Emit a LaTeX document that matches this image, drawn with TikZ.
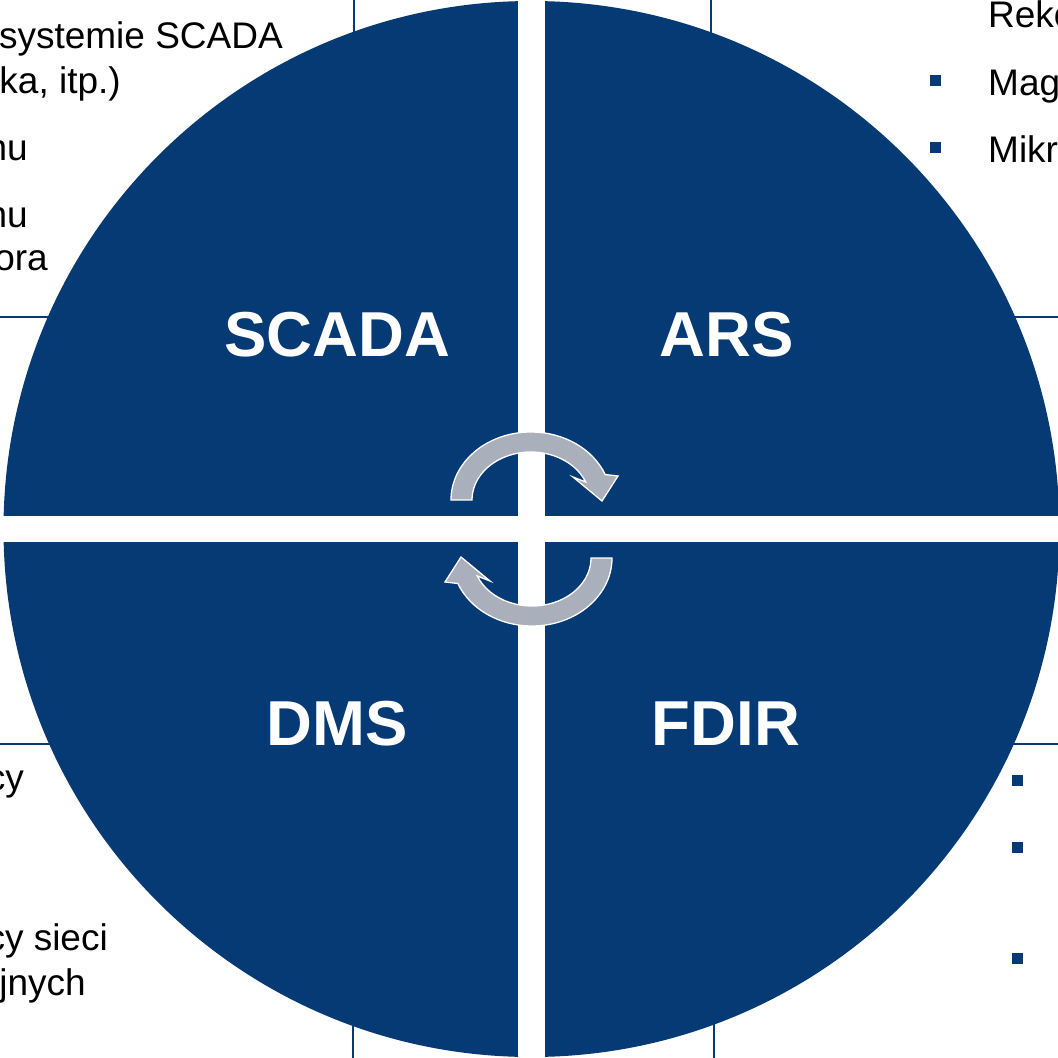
\documentclass[tikz,border=0pt]{standalone}
\usepackage{fontspec}
\setmainfont{Liberation Sans}
\definecolor{navy}{RGB}{5,58,117}
\definecolor{arrowgray}{RGB}{170,175,188}
\begin{document}
\begin{tikzpicture}[x=1pt,y=-1pt,
  body/.style={font=\fontsize{37}{44}\selectfont, text=black, inner sep=0pt},
  quad/.style={font=\fontsize{63.5}{70}\selectfont\bfseries, text=white, inner sep=0pt, anchor=base},
  rule/.style={draw=navy, line width=2pt},
  bulletbox/.style={fill=navy},
  cyc/.style={fill=arrowgray, draw=white, line width=1.3pt, line join=miter}]
\useasboundingbox (0,0) rectangle (1058,1058);
\clip (0,0) rectangle (1058,1058);
\fill[white] (0,0) rectangle (1058,1058);
% background table rules
\draw[rule] (354,0) -- (354,60);
\draw[rule] (711,0) -- (711,60);
\draw[rule] (352.5,1000) -- (352.5,1058);
\draw[rule] (714,1000) -- (714,1058);
\draw[rule] (0,317) -- (80,317);
\draw[rule] (980,317) -- (1058,317);
\draw[rule] (0,743.5) -- (80,743.5);
\draw[rule] (980,743.5) -- (1058,743.5);
% disc and cross
\fill[navy] (531.5,529) circle[radius=528];
\fill[white] (518,0) rectangle (545,1058);
\fill[white] (0,516) rectangle (1058,542);
% quadrant labels
\node[quad] (scada) at (337,356) {SCADA};
\node[quad] (ars) at (727,356) {ARS};
\node[quad] (dms) at (337,745) {DMS};
\node[quad] (fdir) at (726,745) {FDIR};
% cycle arrows
\path[cyc] (451,500) arc[start angle=180,end angle=338,x radius=80,y radius=68]
  -- (618,476) -- (602,501) -- (573,477) -- (585.7,482)
  arc[start angle=338,end angle=180,x radius=59,y radius=48] -- cycle;
\path[cyc, rotate around={180:(531.5,529)}] (451,500) arc[start angle=180,end angle=338,x radius=80,y radius=68]
  -- (618,476) -- (602,501) -- (573,477) -- (585.7,482)
  arc[start angle=338,end angle=180,x radius=59,y radius=48] -- cycle;
% left texts (cut by the page edge)
\node[body, anchor=base east] (l1) at (283,48) {systemie SCADA};
\node[body, anchor=base east] (l2) at (121,93) {ka, itp.)};
\node[body, anchor=base east] (l3) at (28,160) {nu};
\node[body, anchor=base east] (l4) at (28,227) {nu};
\node[body, anchor=base east] (l5) at (48,270) {ora};
\node[body, anchor=base east] (l6) at (24,790) {cy};
\node[body, anchor=base east] (l7) at (108,950) {cy sieci};
\node[body, anchor=base east] (l8) at (86,995) {jnych};
% right texts
\node[body, anchor=base west] (r1) at (988,27) {Reko};
\node[body, anchor=base west] (r2) at (988,95) {Mag};
\node[body, anchor=base west] (r3) at (988,162) {Mikr};
% bullets
\fill[bulletbox] (930,75) rectangle (941,86);
\fill[bulletbox] (930,142) rectangle (941,153);
\fill[bulletbox] (1012,775) rectangle (1023,786);
\fill[bulletbox] (1012,842) rectangle (1023,853);
\fill[bulletbox] (1012,953) rectangle (1023,964);
\end{tikzpicture}
\end{document}
